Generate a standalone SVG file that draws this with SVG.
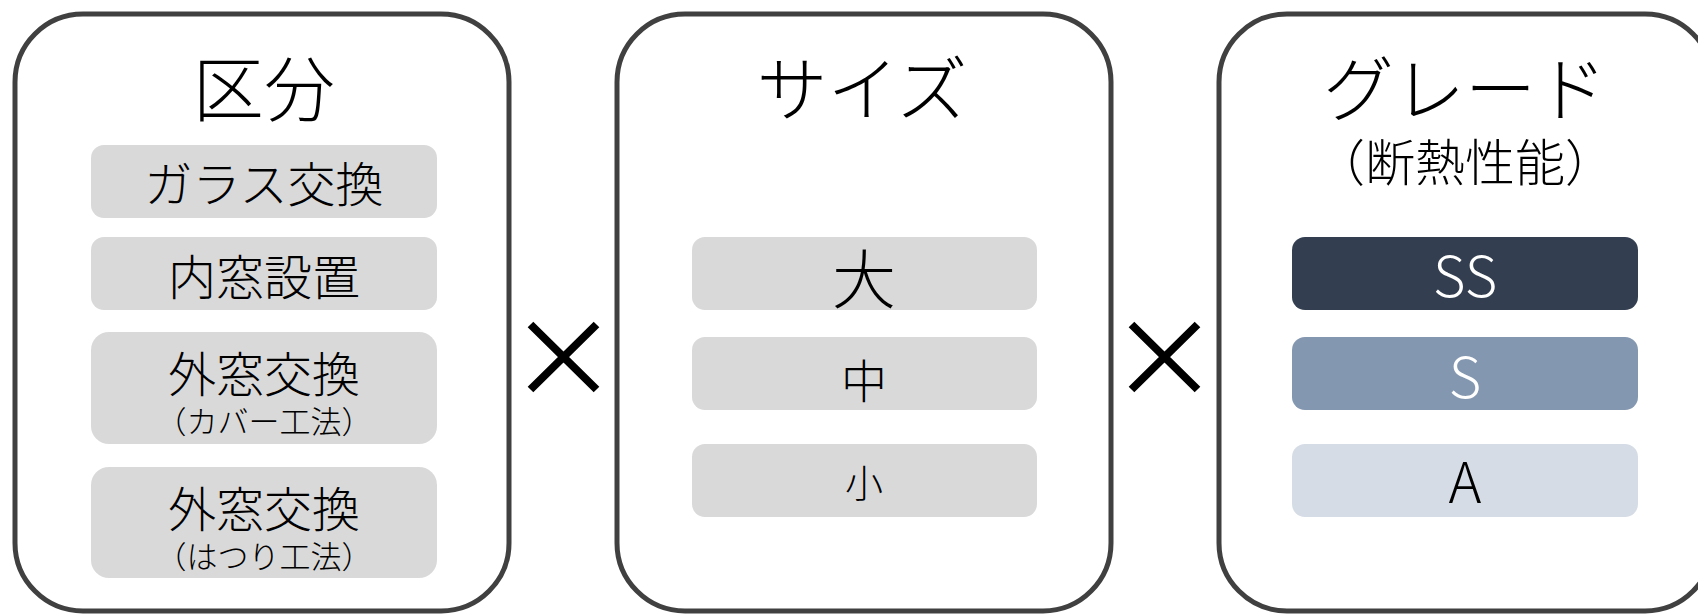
<svg xmlns="http://www.w3.org/2000/svg" width="1698" height="614" viewBox="0 0 1698 614">
<style>
.panel{fill:#ffffff;stroke:#404040;stroke-width:5}
.item{fill:#d9d9d9}
.t{font-family:"Noto Sans CJK JP","Noto Sans",sans-serif;font-weight:300;text-anchor:middle;fill:#000000}
.title{font-size:71px}
.lbl{font-size:48px}
.sub{font-size:31px}
.grade{font-size:56px}
.cross{stroke:#000000;stroke-width:8;fill:none}
</style>
<rect width="1698" height="614" fill="#ffffff"/>
<g id="panel-kubun">
  <rect class="panel" x="15" y="14" width="494" height="597" rx="68" ry="68"/>
  <text class="t title" x="264" y="115">区分</text>
  <rect class="item" x="91" y="145" width="346" height="73" rx="13"/>
  <text class="t lbl" x="264" y="202">ガラス交換</text>
  <rect class="item" x="91" y="237" width="346" height="73" rx="13"/>
  <text class="t lbl" x="264" y="295">内窓設置</text>
  <rect class="item" x="91" y="332" width="346" height="112" rx="18"/>
  <text class="t lbl" x="264" y="392">外窓交換</text>
  <text class="t sub" x="264" y="433">（カバー工法）</text>
  <rect class="item" x="91" y="467" width="346" height="111" rx="18"/>
  <text class="t lbl" x="264" y="527">外窓交換</text>
  <text class="t sub" x="264" y="568">（はつり工法）</text>
</g>
<g id="panel-size">
  <rect class="panel" x="617" y="14" width="494" height="597" rx="68" ry="68"/>
  <text class="t title" x="862" y="115">サイズ</text>
  <rect class="item" x="692" y="237" width="345" height="73" rx="13"/>
  <text class="t" x="864" y="303" font-size="64">大</text>
  <rect class="item" x="692" y="337" width="345" height="73" rx="13"/>
  <text class="t" x="864" y="398" font-size="46">中</text>
  <rect class="item" x="692" y="444" width="345" height="73" rx="13"/>
  <text class="t" x="864" y="497" font-size="38">小</text>
</g>
<g id="panel-grade">
  <rect class="panel" x="1219" y="14" width="494" height="597" rx="68" ry="68"/>
  <text class="t title" x="1465" y="115">グレード</text>
  <text class="t" x="1465" y="181" font-size="50">（断熱性能）</text>
  <rect x="1292" y="237" width="346" height="73" rx="13" fill="#333f50"/>
  <text class="t grade" x="1465" y="297" style="fill:#ffffff">SS</text>
  <rect x="1292" y="337" width="346" height="73" rx="13" fill="#8497b0"/>
  <text class="t grade" x="1465" y="398" style="fill:#ffffff">S</text>
  <rect x="1292" y="444" width="346" height="73" rx="13" fill="#d6dce5"/>
  <text class="t grade" x="1465" y="503">A</text>
</g>
<g id="connectors">
  <path class="cross" d="M530.5 324.5 L596.5 389.5 M596.5 324.5 L530.5 389.5"/>
  <path class="cross" d="M1131.5 324.5 L1197.5 389.5 M1197.5 324.5 L1131.5 389.5"/>
</g>
</svg>
